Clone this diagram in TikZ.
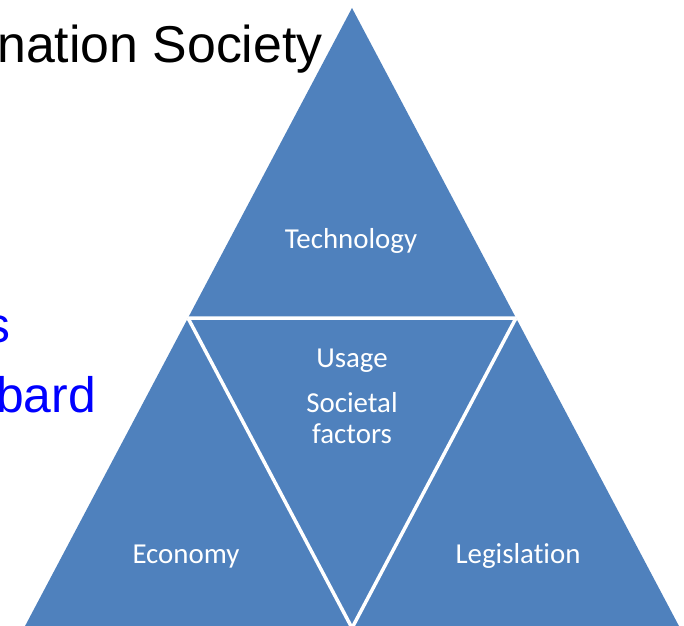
\documentclass[tikz,border=0pt]{standalone}
\usepackage{fontspec}
\setmainfont{Liberation Sans}
\newfontfamily\calib[Ligatures=NoCommon]{Carlito}
\definecolor{triblue}{HTML}{4F81BD}
\definecolor{txtblue}{HTML}{0000FF}
\begin{document}
\begin{tikzpicture}[x=1bp,y=-1bp,
  lbl/.style={text=white,font=\calib\fontsize{29}{31}\selectfont,inner sep=0,anchor=base,align=center},
  gap/.style={draw=white,line width=3.5bp},
  big/.style={font=\fontsize{52}{60}\selectfont,inner sep=0,anchor=base west},
  bluebig/.style={text=txtblue,font=\fontsize{50}{60}\selectfont,inner sep=0,anchor=base west}]
\useasboundingbox (0,0) rectangle (684,626);
\clip (0,0) rectangle (684,626);
\fill[white] (0,0) rectangle (684,626);
\coordinate (apex) at (352,8);
\coordinate (bl) at (24,628);
\coordinate (br) at (680,628);
\coordinate (ml) at (188,318);
\coordinate (mr) at (516,318);
\coordinate (mb) at (352,628);
\fill[triblue] (apex) -- (bl) -- (br) -- cycle;
\draw[gap] (ml) -- (mr) (ml) -- (mb) -- (mr);
\node[big] (title) at (-3,63) {nation Society};
\node[bluebig] (s) at (-15,342) {s};
\node[bluebig] (bard) at (-4,412) {bard};
\node[lbl] (tech) at (351,248) {Technology};
\node[lbl] (usage) at (352,367) {Usage};
\node[lbl] (soc) at (352,443) {Societal\\factors};
\node[lbl] (econ) at (186,563) {Economy};
\node[lbl] (legis) at (518,563) {Legislation};
\end{tikzpicture}
\end{document}
